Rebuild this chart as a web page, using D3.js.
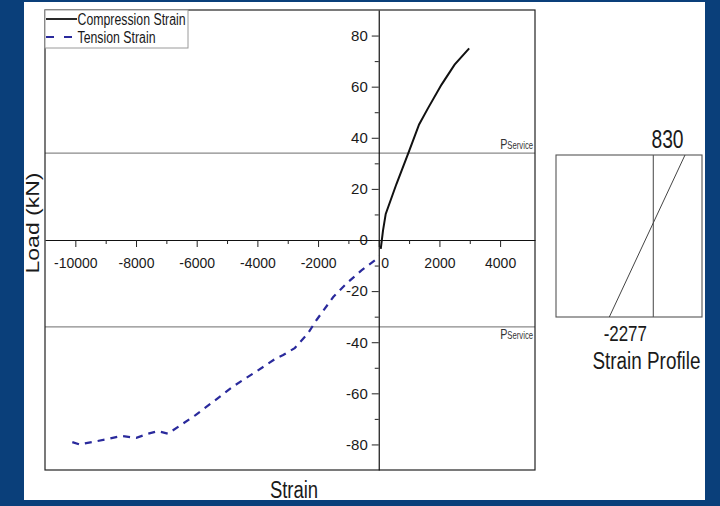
<!DOCTYPE html>
<html>
<head>
<meta charset="utf-8">
<script src="https://cdn.jsdelivr.net/npm/d3@7"></script>
<style>
  html, body { margin: 0; padding: 0; background: #0a3f7a; }
  svg { display: block; }
  text { font-family: "Liberation Sans", Arial, sans-serif; fill: #1a1a1a; }
</style>
</head>
<body>
<svg id="chart" width="720" height="506"></svg>
<script>
// Load–strain readings (strain in microstrain, load in kN)
const compressionStrain = [66, 140, 230, 583, 1000, 1330, 1630, 2070, 2500, 2980];
const compressionLoad   = [-3.5, 3.7, 10.2, 21.9, 34.8, 45.2, 51.7, 60.8, 68.6, 75];

const tensionStrain = [-10100, -9860, -9420, -8980, -8480, -7990, -7600, -7280, -6950, -6500,
                       -6050, -5400, -4800, -4030, -3370, -3150, -2770, -2330, -2050, -1500,
                       -1060, -570, -130, -20];
const tensionLoad   = [-79.1, -80, -79, -78, -76.7, -77.4, -75.8, -74.8, -75.8, -72.2,
                       -68.6, -62.8, -57.3, -51.4, -46.2, -45, -42.3, -36.5, -31.3, -22.3,
                       -17, -11.9, -8, -6];

const seriesNames = ["Compression Strain", "Tension Strain"];
const xTickValues = [-10000, -8000, -6000, -4000, -2000, 0, 2000, 4000];
const xMinorTicks = [-9000, -7000, -5000, -3000, -1000, 1000, 3000];
const yTickValues = [-80, -60, -40, -20, 0, 20, 40, 60, 80];
const yMinorTicks = [-70, -50, -30, -10, 10, 30, 50, 70];
const serviceLoads = [34, -34];
const profileStrains = [830, -2277];   // top fibre, bottom fibre

const svg = d3.select("#chart");

// white panel
svg.append("rect").attr("x", 24).attr("y", 2).attr("width", 681).attr("height", 498).attr("fill", "#ffffff");

const plot = { left: 45, right: 535, top: 10, bottom: 470 };
const x = d3.scaleLinear().domain([-11000, 5150]).range([plot.left, plot.right]);
const y = d3.scaleLinear().domain([-90, 90]).range([plot.bottom, plot.top]);

// plain hyphen-minus labels
const fmt = d => String(d);

// squeezed text helper: text placed at (px,py), narrowed horizontally by sx
function label(parent, px, py, sx, str, size, anchor, rotate) {
  const g = parent.append("g")
    .attr("transform", `translate(${px},${py}) scale(${sx},1)` + (rotate ? ` rotate(${rotate})` : ""));
  const t = g.append("text").attr("text-anchor", anchor || "start").attr("font-size", size);
  if (str !== null) t.text(str);
  return t;
}

// service load lines
svg.append("g").selectAll("line").data(serviceLoads).join("line")
  .attr("x1", plot.left).attr("x2", plot.right)
  .attr("y1", d => y(d)).attr("y2", d => y(d))
  .attr("stroke", "#8a8a8a").attr("stroke-width", 1.4);

serviceLoads.forEach(v => {
  const t = label(svg, 533, v > 0 ? y(v) - 4 : y(v) + 12, 0.77, null, 14, "end");
  t.style("fill", "#333");
  t.append("tspan").attr("font-size", 14).text("P");
  t.append("tspan").attr("font-size", 10).text("Service");
});

// frame
svg.append("rect").attr("x", plot.left).attr("y", plot.top)
  .attr("width", plot.right - plot.left).attr("height", plot.bottom - plot.top)
  .attr("fill", "none").attr("stroke", "#222").attr("stroke-width", 1.2);

// x axis through load = 0
const xAxisG = svg.append("g").attr("transform", `translate(0,${y(0)})`)
  .call(d3.axisBottom(x).tickValues(xTickValues).tickFormat(fmt)
    .tickSize(7).tickSizeOuter(0).tickPadding(11.5));
xAxisG.append("g").call(d3.axisBottom(x).tickValues(xMinorTicks).tickFormat("").tickSize(4).tickSizeOuter(0))
  .select(".domain").remove();
xAxisG.selectAll("text").attr("font-size", 14).attr("fill", "#1a1a1a")
  .attr("font-family", "Liberation Sans, Arial, sans-serif")
  .attr("dx", d => d === 0 ? 6 : 0);

// y axis through strain = 0
const yAxisG = svg.append("g").attr("transform", `translate(${x(0)},0)`)
  .call(d3.axisLeft(y).tickValues(yTickValues).tickFormat(fmt)
    .tickSize(7).tickSizeOuter(0).tickPadding(4));
yAxisG.append("g").call(d3.axisLeft(y).tickValues(yMinorTicks).tickFormat("").tickSize(4).tickSizeOuter(0))
  .select(".domain").remove();
yAxisG.selectAll("text").attr("font-size", 15).attr("fill", "#1a1a1a")
  .attr("font-family", "Liberation Sans, Arial, sans-serif");

svg.selectAll(".domain").attr("stroke", "#111").attr("stroke-width", 1.2);
svg.selectAll(".tick line").attr("stroke", "#222");

// curves
const line = d3.line().x(d => x(d[0])).y(d => y(d[1]));
const compression = compressionStrain.map((s, i) => [s, compressionLoad[i]]);
const tension = tensionStrain.map((s, i) => [s, tensionLoad[i]]);

svg.append("path").datum(tension).attr("d", line)
  .attr("fill", "none").attr("stroke", "#2a2a9c").attr("stroke-width", 2.2)
  .attr("stroke-dasharray", "7,6");
svg.append("path").datum(compression).attr("d", line)
  .attr("fill", "none").attr("stroke", "#111").attr("stroke-width", 2);

// legend
const legend = svg.append("g");
legend.append("rect").attr("x", plot.left).attr("y", plot.top).attr("width", 143).attr("height", 38)
  .attr("fill", "#fff").attr("stroke", "#9a9a9a");
legend.append("line").attr("x1", 46).attr("x2", 77).attr("y1", 19).attr("y2", 19)
  .attr("stroke", "#111").attr("stroke-width", 1.8);
legend.append("line").attr("x1", 46).attr("x2", 77).attr("y1", 37).attr("y2", 37)
  .attr("stroke", "#2a2a9c").attr("stroke-width", 2).attr("stroke-dasharray", "8,10");
label(legend, 77.5, 25, 0.77, seriesNames[0], 16);
label(legend, 77.5, 42.5, 0.77, seriesNames[1], 16);

// axis titles
label(svg, 294, 498, 0.77, "Strain", 24, "middle");
label(svg, 39, 223, 0.78, "Load (kN)", 23, "middle", -90);

// strain profile inset
const inset = { left: 556, right: 702, top: 155, bottom: 317 };
const xp = d3.scaleLinear().domain([profileStrains[1], 0, profileStrains[0]]).range([609.3, 653.3, 685]);
const ins = svg.append("g");
ins.append("rect").attr("x", inset.left).attr("y", inset.top)
  .attr("width", inset.right - inset.left).attr("height", inset.bottom - inset.top)
  .attr("fill", "none").attr("stroke", "#555").attr("stroke-width", 1.1);
ins.append("line").attr("x1", xp(0)).attr("x2", xp(0)).attr("y1", inset.top).attr("y2", inset.bottom)
  .attr("stroke", "#555").attr("stroke-width", 1.1);
ins.append("line")
  .attr("x1", xp(profileStrains[1])).attr("y1", inset.bottom)
  .attr("x2", xp(profileStrains[0])).attr("y2", inset.top)
  .attr("stroke", "#444").attr("stroke-width", 1);
label(ins, xp(profileStrains[0]) - 17.5, 148, 0.77, String(profileStrains[0]), 25, "middle");
label(ins, xp(profileStrains[1]) + 16, 341, 0.77, String(profileStrains[1]), 22, "middle");
label(ins, 646.5, 369, 0.77, "Strain Profile", 24.5, "middle");
</script>
</body>
</html>
